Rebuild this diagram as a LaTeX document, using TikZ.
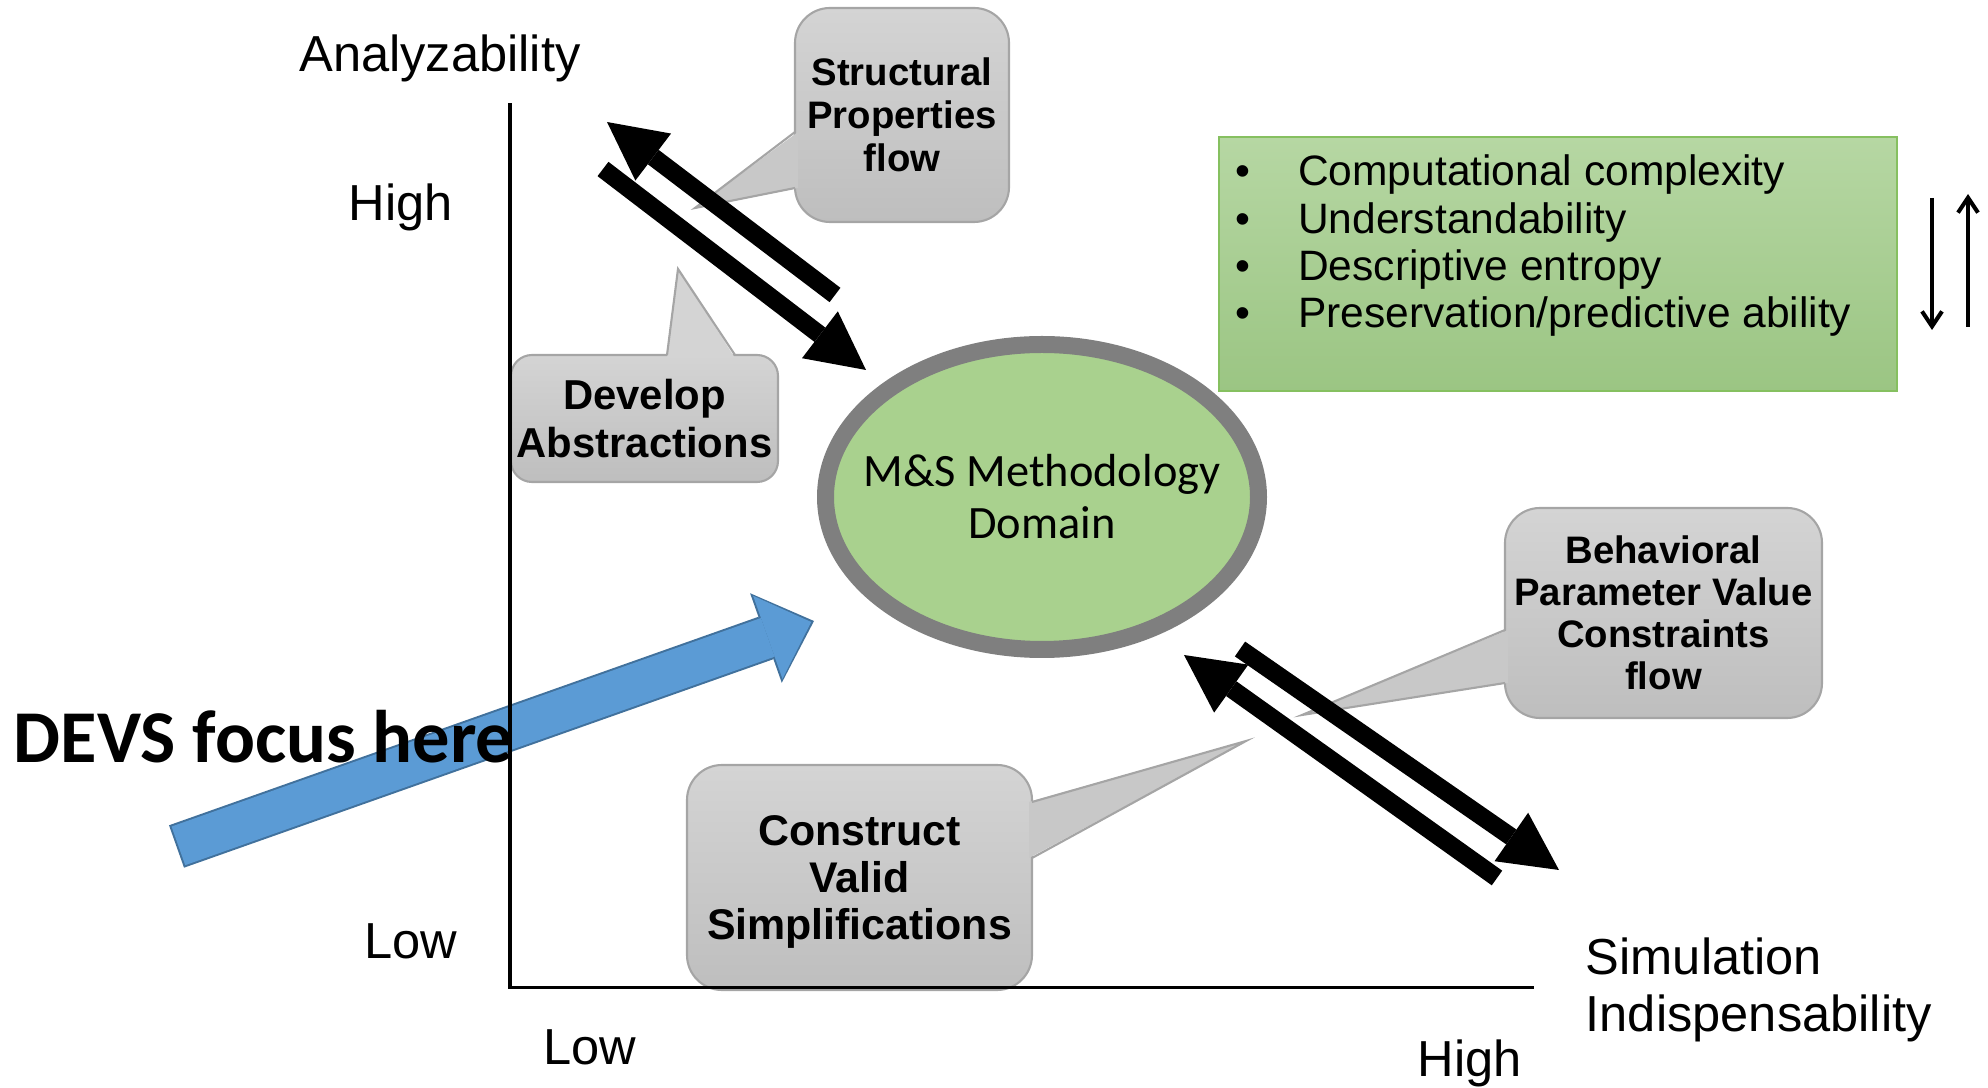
\documentclass[tikz,border=0pt]{standalone}
\usepackage{fontspec}
\setmainfont{Liberation Sans}
\newfontfamily\calibri{Carlito}
\usepackage{tikz}
\usetikzlibrary{shapes.geometric,arrows.meta,positioning,calc}

\definecolor{bubbletop}{RGB}{212,212,212}
\definecolor{bubblebot}{RGB}{190,190,190}
\definecolor{bubblemid}{RGB}{200,200,200}
\definecolor{bubbleedge}{RGB}{165,165,165}
\definecolor{listtop}{RGB}{182,215,163}
\definecolor{listbot}{RGB}{155,197,131}
\definecolor{listedge}{RGB}{134,192,96}
\definecolor{domainfill}{RGB}{169,209,142}
\definecolor{domainedge}{RGB}{127,127,127}
\definecolor{devsblue}{RGB}{91,155,213}
\definecolor{devsedge}{RGB}{65,113,156}

\begin{document}
\begin{tikzpicture}[
    axislabel/.style={font=\fontsize{14.4}{16.2}\selectfont, inner sep=0},
    bubble/.style={draw=bubbleedge, line width=0.6pt, top color=bubbletop, bottom color=bubblebot,
        rounded corners=0.35cm, align=center, inner sep=0, outer sep=0},
    tailfill/.style={fill=bubblemid},
    tailedge/.style={draw=bubbleedge, line width=0.6pt},
    flowarrow/.style={line width=0.18cm, -{Triangle[length=0.58cm,width=0.59cm,line width=0pt]}},
    item/.style={anchor=base west, inner sep=0, font=\fontsize{12.1}{13.1}\selectfont}
]
    \useasboundingbox (0,0) rectangle (19.88,10.88);

    % DEVS arrow
    \coordinate (devstail) at (1.765,2.415);
    \coordinate (devstip) at (8.14,4.67);
    \draw[devsedge, line width=0.45cm, -{Triangle[length=0.51cm,width=0.95cm,line width=0pt]}] (devstail) -- (devstip);
    \draw[devsblue, line width=0.41cm, shorten >=0.03cm, shorten <=0.02cm,
        -{Triangle[length=0.46cm,width=0.88cm,line width=0pt]}] (devstail) -- (devstip);
    \node[anchor=base west, inner sep=0, font=\calibri\bfseries\fontsize{21.2}{24}\selectfont] (devs) at (0.13,3.25) {DEVS focus here};

    % Speech bubbles
    \node[bubble, minimum width=2.14cm, minimum height=2.14cm, font=\bfseries\fontsize{10.9}{12.2}\selectfont] (structbox) at (9.02,9.73) {Structural\\Properties\\flow};
    \node[bubble, rounded corners=0.21cm, minimum width=2.67cm, minimum height=1.27cm, font=\bfseries\fontsize{11.9}{13.6}\selectfont] (devbox) at (6.445,6.695) {Develop\\Abstractions};
    \node[bubble, text depth=0pt, minimum width=3.45cm, minimum height=2.25cm, font=\bfseries\fontsize{12.2}{13.5}\selectfont] (simpbox) at (8.595,2.105) {Construct\\Valid\\Simplifications};
    \node[bubble, minimum width=3.17cm, minimum height=2.10cm, font=\bfseries\fontsize{10.9}{11.9}\selectfont] (behavbox) at (16.635,4.75) {Behavioral\\Parameter Value\\Constraints\\flow};

    \coordinate (structtip) at (6.95,8.80);
    \coordinate (devtip) at (6.78,8.19);
    \coordinate (simptip) at (12.46,3.47);
    \coordinate (behavtip) at (13.02,3.73);

    % Bubble tails
    \fill[tailfill] ($(structbox.west)+(0.03,-0.17)$) -- (structtip) -- ($(structbox.west)+(0.03,-0.73)$) -- cycle;
    \draw[tailedge] ($(structbox.west)+(0,-0.17)$) -- (structtip) -- ($(structbox.west)+(0,-0.73)$);
    \fill[tailfill, fill=bubbletop] ($(devbox.north)+(0.225,-0.03)$) -- (devtip) -- ($(devbox.north)+(0.905,-0.03)$) -- cycle;
    \draw[tailedge] ($(devbox.north)+(0.225,0)$) -- (devtip) -- ($(devbox.north)+(0.905,0)$);
    \fill[tailfill] ($(simpbox.east)+(-0.03,0.755)$) -- (simptip) -- ($(simpbox.east)+(-0.03,0.195)$) -- cycle;
    \draw[tailedge] ($(simpbox.east)+(0,0.755)$) -- (simptip) -- ($(simpbox.east)+(0,0.195)$);
    \fill[tailfill] ($(behavbox.west)+(0.03,-0.17)$) -- (behavtip) -- ($(behavbox.west)+(0.03,-0.70)$) -- cycle;
    \draw[tailedge] ($(behavbox.west)+(0,-0.17)$) -- (behavtip) -- ($(behavbox.west)+(0,-0.70)$);

    % Domain
    \node[ellipse, draw=domainedge, line width=0.17cm, fill=domainfill, minimum width=4.33cm, minimum height=3.05cm,
        inner sep=0] (domain) at (10.42,5.91) {};
    \node[align=center, inner sep=0, font=\calibri\fontsize{13.2}{14.8}\selectfont] (domaintext) at (domain.center) {M\&S Methodology\\Domain};

    % Property list
    \node[draw=listedge, line width=0.6pt, top color=listtop, bottom color=listbot,
        minimum width=6.78cm, minimum height=2.54cm, inner sep=0] (listbox) at (15.58,8.24) {};
    \foreach \txt [count=\i] in {Computational complexity, Understandability, Descriptive entropy, Preservation/predictive ability}
        \node[item] (item\i) at (12.345,9.492-0.472*\i) {\makebox[0.63cm][l]{\textbullet}\txt};

    \coordinate (downstart) at (19.32,8.90);
    \coordinate (downend) at (19.32,7.58);
    \coordinate (upstart) at (19.68,7.61);
    \coordinate (upend) at (19.68,8.94);
    \draw[line width=1.15pt, -{Straight Barb[length=0.15cm,width=0.2cm]}] (downstart) -- (downend);
    \draw[line width=1.15pt, -{Straight Barb[length=0.15cm,width=0.2cm]}] (upstart) -- (upend);

    % Flow arrows
    \coordinate (a1) at (8.35,7.93); \coordinate (a2) at (6.07,9.66);
    \coordinate (b1) at (6.03,9.19); \coordinate (b2) at (8.66,7.18);
    \coordinate (c1) at (14.97,2.10); \coordinate (c2) at (11.84,4.33);
    \coordinate (d1) at (12.40,4.39); \coordinate (d2) at (15.59,2.18);
    \draw[flowarrow] (a1) -- (a2);
    \draw[flowarrow] (b1) -- (b2);
    \draw[flowarrow] (c1) -- (c2);
    \draw[flowarrow] (d1) -- (d2);

    % Axes and labels
    \node[axislabel, anchor=base] (ylabel) at (4.40,10.16) {Analyzability};
    \node[axislabel, anchor=base] (yhigh) at (4.01,8.67) {High};
    \node[axislabel, anchor=base] (ylow) at (4.11,1.29) {Low};
    \node[axislabel, anchor=base] (xlow) at (5.90,0.23) {Low};
    \node[axislabel, anchor=base] (xhigh) at (14.70,0.11) {High};
    \node[axislabel, anchor=west, align=left] (xlabel) at (15.85,0.985) {Simulation\\Indispensability};

    \coordinate (O) at (5.10,1.005);
    \coordinate (ytop) at (5.10,9.845);
    \coordinate (xend) at (15.34,1.005);
    \draw[line width=0.95pt] (ytop) -- (O) -- (xend);
\end{tikzpicture}
\end{document}
